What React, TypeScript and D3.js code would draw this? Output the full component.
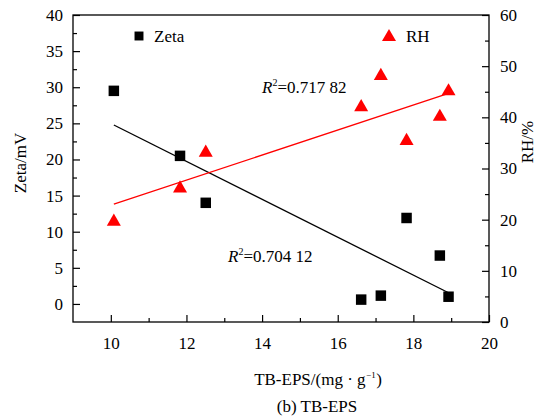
import React, { useEffect, useRef } from 'react';
import * as d3 from 'd3';

// TB-EPS values (mg/g) for each sample
const xEps = [10.08, 11.83, 12.51, 16.62, 17.14, 17.82, 18.7, 18.93];
const zeta = [29.5, 20.5, 14.0, 0.6, 1.15, 11.9, 6.7, 1.0];
const rh = [19.6, 26.1, 33.1, 42.0, 48.1, 35.4, 40.1, 45.1];

const xTicks = [10, 12, 14, 16, 18, 20];
const xMinor = [11, 13, 15, 17, 19];
const zetaTicks = [0, 5, 10, 15, 20, 25, 30, 35, 40];
const zetaMinor = [2.5, 7.5, 12.5, 17.5, 22.5, 27.5, 32.5, 37.5];
const rhTicks = [0, 10, 20, 30, 40, 50, 60];
const rhMinor = [5, 15, 25, 35, 45, 55];

const fontFamily = "'Liberation Serif', 'Times New Roman', Times, serif";

const fit = (xs: number[], ys: number[]) => {
  const mx = d3.mean(xs)!;
  const my = d3.mean(ys)!;
  let sxy = 0;
  let sxx = 0;
  xs.forEach((x, i) => {
    sxy += (x - mx) * (ys[i] - my);
    sxx += (x - mx) * (x - mx);
  });
  const k = sxy / sxx;
  return (x: number) => my + k * (x - mx);
};

const Chart = () => {
  const ref = useRef<SVGSVGElement>(null);

  useEffect(() => {
    const svg = d3.select(ref.current);
    svg.selectAll('*').remove();

    const left = 73;
    const right = 489;
    const top = 15;
    const bottom = 322;

    const x = d3.scaleLinear().domain([9, 20]).range([left, right]);
    const yL = d3.scaleLinear().domain([-2.5, 40]).range([bottom, top]);
    const yR = d3.scaleLinear().domain([0, 60]).range([bottom, top]);

    const g = svg.append('g').style('font-family', fontFamily);

    const styleAxis = (sel: any) => {
      sel.select('.domain').remove();
      sel.attr('font-family', null).style('font-family', fontFamily);
      sel.selectAll('line').attr('stroke', '#000').attr('stroke-width', 1.2);
      sel.selectAll('text').attr('font-size', 17).style('font-family', fontFamily).attr('fill', '#000');
    };

    // bottom axis
    g.append('g')
      .attr('transform', `translate(0,${bottom})`)
      .call(d3.axisBottom(x).tickValues(xTicks).tickSize(-7).tickPadding(15).tickFormat(d3.format('d')))
      .call(styleAxis);
    g.append('g')
      .attr('transform', `translate(0,${bottom})`)
      .call(d3.axisBottom(x).tickValues(xMinor).tickSize(-4).tickFormat(() => ''))
      .call(styleAxis);

    // left axis
    g.append('g')
      .attr('transform', `translate(${left},0)`)
      .call(d3.axisLeft(yL).tickValues(zetaTicks).tickSize(-7).tickPadding(10).tickFormat(d3.format('d')))
      .call(styleAxis);
    g.append('g')
      .attr('transform', `translate(${left},0)`)
      .call(d3.axisLeft(yL).tickValues(zetaMinor).tickSize(-4).tickFormat(() => ''))
      .call(styleAxis);

    // right axis
    g.append('g')
      .attr('transform', `translate(${right},0)`)
      .call(d3.axisRight(yR).tickValues(rhTicks).tickSize(-7).tickPadding(11).tickFormat(d3.format('d')))
      .call(styleAxis);
    g.append('g')
      .attr('transform', `translate(${right},0)`)
      .call(d3.axisRight(yR).tickValues(rhMinor).tickSize(-4).tickFormat(() => ''))
      .call(styleAxis);

    // frame
    g.append('rect')
      .attr('x', left)
      .attr('y', top)
      .attr('width', right - left)
      .attr('height', bottom - top)
      .attr('fill', 'none')
      .attr('stroke', '#000')
      .attr('stroke-width', 1.3);

    // fitted lines
    const [x0, x1] = d3.extent(xEps) as [number, number];
    const fz = fit(xEps, zeta);
    const fr = fit(xEps, rh);
    g.append('line')
      .attr('x1', x(x0)).attr('y1', yL(fz(x0)))
      .attr('x2', x(x1)).attr('y2', yL(fz(x1)))
      .attr('stroke', '#000').attr('stroke-width', 1.3);
    g.append('line')
      .attr('x1', x(x0)).attr('y1', yR(fr(x0)))
      .attr('x2', x(x1)).attr('y2', yR(fr(x1)))
      .attr('stroke', '#ff0000').attr('stroke-width', 1.3);

    const sq = d3.symbol().type(d3.symbolSquare).size(110);
    const tri = d3.symbol().type(d3.symbolTriangle).size(85);

    g.selectAll('.zeta')
      .data(xEps)
      .join('path')
      .attr('d', sq)
      .attr('transform', (d, i) => `translate(${x(d)},${yL(zeta[i])})`)
      .attr('fill', '#000');

    g.selectAll('.rh')
      .data(xEps)
      .join('path')
      .attr('d', tri)
      .attr('transform', (d, i) => `translate(${x(d)},${yR(rh[i])})`)
      .attr('fill', '#ff0000');

    // legend
    g.append('path').attr('d', d3.symbol().type(d3.symbolSquare).size(80)).attr('transform', 'translate(139,36)').attr('fill', '#000');
    g.append('text').attr('x', 154).attr('y', 42).attr('font-size', 17).text('Zeta');
    g.append('path').attr('d', d3.symbol().type(d3.symbolTriangle).size(85)).attr('transform', 'translate(389,37)').attr('fill', '#ff0000');
    g.append('text').attr('x', 406).attr('y', 42).attr('font-size', 17).text('RH');

    // R² annotations
    const r2 = (tx: number, ty: number, val: string) => {
      const t = g.append('text').attr('x', tx).attr('y', ty).attr('font-size', 17);
      t.append('tspan').attr('font-style', 'italic').text('R');
      t.append('tspan').attr('font-size', 10).attr('dy', -7).text('2');
      t.append('tspan').attr('dy', 7).text(`=${val}`);
    };
    r2(262, 93, '0.717 82');
    r2(228, 262, '0.704 12');

    // axis titles
    g.append('text')
      .attr('transform', 'translate(26,163) rotate(-90)')
      .attr('text-anchor', 'middle')
      .attr('font-size', 17)
      .text('Zeta/mV');
    g.append('text')
      .attr('transform', 'translate(533,142) rotate(-90)')
      .attr('text-anchor', 'middle')
      .attr('font-size', 17)
      .text('RH/%');

    const xt = g.append('text').attr('x', 318).attr('y', 385).attr('text-anchor', 'middle').attr('font-size', 17);
    xt.append('tspan').text('TB-EPS/(mg · g');
    xt.append('tspan').attr('font-size', 9).attr('dy', -7).attr('dx', 0.5).text('−1');
    xt.append('tspan').attr('dy', 7).attr('dx', 0.5).text(')');

    g.append('text')
      .attr('x', 317)
      .attr('y', 412)
      .attr('text-anchor', 'middle')
      .attr('font-size', 17)
      .text('(b) TB-EPS');
  }, []);

  return (
    <svg
      ref={ref}
      width={557}
      height={418}
      style={{ display: 'block', position: 'fixed', left: 0, top: 0, background: '#fff', fontFamily }}
    />
  );
};

export default function App() {
  return <Chart />;
}
